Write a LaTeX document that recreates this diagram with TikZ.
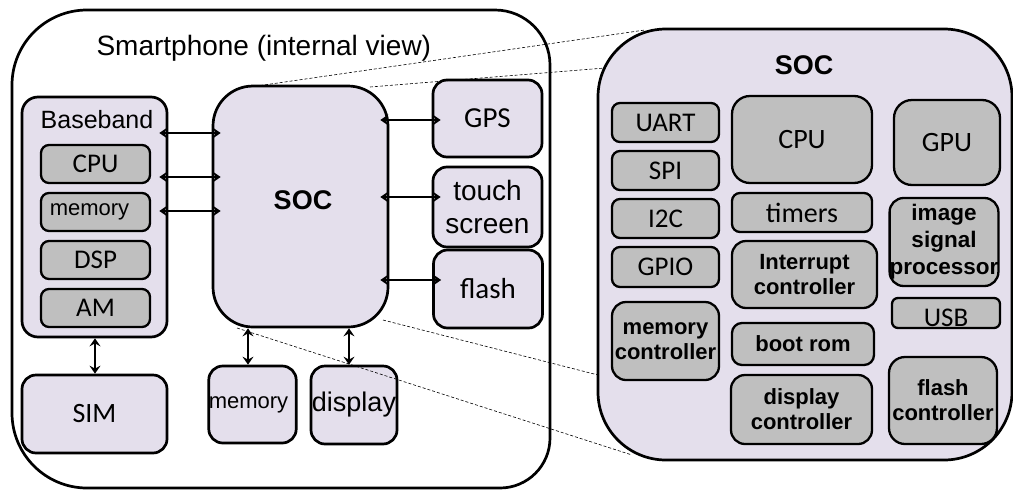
\documentclass[tikz,border=0pt]{standalone}
\usepackage{fontspec}
\setmainfont{Liberation Sans}
\newfontfamily\calfont{Carlito}
\usetikzlibrary{arrows.meta}
\definecolor{lav}{HTML}{E4DFEC}
\definecolor{chip}{HTML}{BFBFBF}

\begin{document}
\begin{tikzpicture}[x=1pt,y=-1pt,
  frame/.style={draw=black, line width=2.7pt},
  pbox/.style={frame, fill=lav, rounded corners=#1, inner sep=0pt, align=center},
  pbox/.default=14pt,
  gbox/.style={draw=black, line width=2.3pt, fill=chip, rounded corners=#1, inner sep=0pt, align=center},
  gbox/.default=8pt,
  dbl/.style={line width=2.6pt, {Stealth[length=8pt,width=11pt,inset=3pt]}-{Stealth[length=8pt,width=11pt,inset=3pt]}},
  into/.style={shorten <=-9pt, shorten >=-9pt},
  zoomline/.style={line width=0.6pt, dash pattern=on 3pt off 2pt},
  cal/.style={font=\calfont\fontsize{#1}{#1}\selectfont},
  cal/.default=27,
  ari/.style={font=\fontsize{#1}{#1}\selectfont},
  bld/.style={font=\bfseries\fontsize{22}{25}\selectfont},
]
\useasboundingbox (0,0) rectangle (1013,491);

% phone outline
\draw[frame] (12,85) arc[start angle=180,end angle=270,radius=75] -- (495,10)
  arc[start angle=270,end angle=360,radius=55] -- (550,438)
  arc[start angle=0,end angle=90,radius=50] -- (87,488)
  arc[start angle=90,end angle=180,radius=75] -- cycle;
\node[anchor=base west, ari=28] (title) at (93,55) {Smartphone (internal view)};

% baseband block
\node[pbox=16pt, minimum width=145, minimum height=240] (bb) at (94.5,217) {};
\node[anchor=base, ari=25] (bblabel) at (97,128) {Baseband};
\node[gbox, minimum width=109, minimum height=38, cal=27] (bbcpu) at (95.5,164) {CPU};
\node[gbox, minimum width=109, minimum height=38, ari=22] (bbmem) at (95.5,212) {memory\hspace*{12pt}};
\node[gbox, minimum width=109, minimum height=38, cal=27] (bbdsp) at (95.5,260) {DSP};
\node[gbox, minimum width=109, minimum height=38, cal=27] (bbam) at (95.5,308) {AM};
\node[pbox, minimum width=145, minimum height=78, cal=28] (sim) at (94.5,414) {SIM};

% application processor
\node[pbox=40pt, minimum width=175, minimum height=241] (socl) at (300.5,206.5) {};
\node[font=\bfseries\fontsize{27}{27}\selectfont] (socllabel) at (303,200) {SOC};

% peripherals
\node[pbox, minimum width=109, minimum height=77, cal=29] (gps) at (487.5,118.5) {GPS};
\node[pbox, minimum width=109, minimum height=80, font=\fontsize{28}{33}\selectfont] (touch) at (487.5,207) {touch\\screen};
\node[pbox, minimum width=109, minimum height=78, cal=29] (flash) at (488,289) {flash};
\node[pbox, minimum width=87, minimum height=77, ari=22] (mem) at (252.5,404.5) {memory\hspace*{8pt}};
\node[pbox, minimum width=86, minimum height=78, ari=27] (disp) at (354,405) {display};

% buses
\draw[dbl, into] (bb.east |- 0,133) -- (socl.west |- 0,133);
\draw[dbl, into] (bb.east |- 0,177) -- (socl.west |- 0,177);
\draw[dbl, into] (bb.east |- 0,211) -- (socl.west |- 0,211);
\draw[dbl, into] (socl.east |- 0,120) -- (gps.west |- 0,120);
\draw[dbl, into] (socl.east |- 0,197) -- (touch.west |- 0,197);
\draw[dbl, into] (socl.east |- 0,280) -- (flash.west |- 0,280);
\draw[dbl] (bb.south -| 95,0) -- (sim.north -| 95,0);
\draw[dbl] (socl.south -| 248,0) -- (mem.north -| 248,0);
\draw[dbl] (socl.south -| 349,0) -- (disp.north -| 349,0);

% SOC detail
\node[pbox=68pt, minimum width=414, minimum height=431] (socr) at (805,244.5) {};
\node[font=\bfseries\fontsize{27}{27}\selectfont] (socrlabel) at (804,65) {SOC};

\node[gbox, minimum width=107, minimum height=39, cal] (uart) at (665.5,122.5) {UART};
\node[gbox, minimum width=107, minimum height=39, cal] (spi) at (665.5,170.5) {SPI};
\node[gbox, minimum width=107, minimum height=39, cal] (i2c) at (665.5,218.5) {I2C};
\node[gbox, minimum width=107, minimum height=40, cal] (gpio) at (665.5,267) {GPIO};
\node[gbox=14pt, minimum width=107, minimum height=78, bld] (memctl) at (665.5,341) {memory\\controller};

\node[gbox=18pt, minimum width=140, minimum height=87, cal=28] (cpu) at (802,139.5) {CPU};
\node[gbox, minimum width=140, minimum height=39, cal=28] (timers) at (802,212.5) {timers};
\node[gbox=14pt, minimum width=145, minimum height=67, bld] (intr) at (804.5,274.5) {Interrupt\\controller};
\node[gbox=10pt, minimum width=142, minimum height=42, bld] (boot) at (803,344) {boot rom};
\node[gbox=14pt, minimum width=141, minimum height=69, bld] (dispctl) at (801.5,409.5) {display\\controller};

\node[gbox=18pt, minimum width=106, minimum height=85, cal=28] (gpu) at (947,142.5) {GPU};
\node[gbox=14pt, minimum width=106, minimum height=88, font=\bfseries\fontsize{22.5}{27}\selectfont] (isp) at (944,242) {image\\signal\\processor};
\node[gbox=6pt, minimum width=108, minimum height=30] (usb) at (946,313) {};
\node[cal, anchor=base] (usblabel) at (946,326) {USB};
\node[gbox=16pt, minimum width=108, minimum height=87, bld] (flashctl) at (943,400.5) {flash\\controller};

% zoom guides
\coordinate (z1) at (645,30);
\coordinate (z2) at (605,68);
\coordinate (z3) at (598,375);
\coordinate (z4) at (632,455);
\draw[zoomline] (250,87) -- (z1);
\draw[zoomline] (370,87) -- (z2);
\draw[zoomline] (383,320) -- (z3);
\draw[zoomline] (237,328) -- (z4);
\end{tikzpicture}
\end{document}
